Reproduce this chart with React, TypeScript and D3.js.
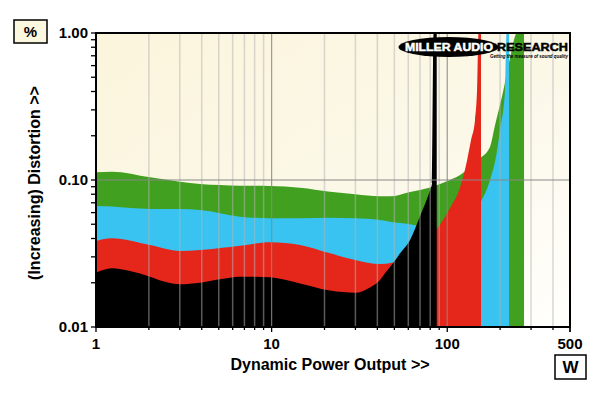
import * as d3 from 'd3';

// power (W) / distortion (%), one pair of arrays per trace
const greenPower = [1, 1.23, 2.03, 3.01, 3.91, 6.61, 9.79, 14.5, 21.5, 29.9, 41.4, 47.2, 61.4, 79.8, 103.7, 118.3, 134.8, 153.7, 175.3, 187.2, 207.9, 227.8, 249.6, 273.7];
const greenDist = [0.1128, 0.1139, 0.1043, 0.0973, 0.0939, 0.0915, 0.091, 0.0886, 0.0832, 0.08, 0.0775, 0.0775, 0.083, 0.089, 0.1, 0.108, 0.123, 0.1405, 0.1685, 0.2366, 0.399, 0.676, 1.0, 1.0];

const bluePower = [1, 1.23, 2.03, 3.01, 3.91, 6.61, 9.79, 14.5, 21.5, 29.9, 41.4, 47.2, 61.4, 79.8, 100, 130, 155.7, 175.3, 189.7, 199.8, 213.4, 217.7, 224.8];
const blueDist = [0.0666, 0.0659, 0.0635, 0.0635, 0.0625, 0.0563, 0.0549, 0.0549, 0.0554, 0.0549, 0.0535, 0.052, 0.05, 0.0465, 0.045, 0.055, 0.0715, 0.1, 0.145, 0.219, 0.41, 1.0, 1.0];

const redPower = [1, 1.23, 2.03, 3.01, 3.91, 6.61, 9.79, 14.5, 21.5, 29.9, 41.4, 48.5, 70, 87.1, 103.7, 118.3, 128, 136.6, 143.9, 147.8, 150.7, 155.7];
const redDist = [0.0385, 0.0401, 0.0361, 0.0329, 0.0334, 0.0357, 0.0377, 0.0361, 0.0317, 0.0286, 0.0268, 0.0274, 0.035, 0.0462, 0.0645, 0.089, 0.1265, 0.187, 0.256, 0.41, 1.0, 1.0];

const blackPower = [1, 1.23, 1.56, 2.03, 2.47, 3.01, 3.91, 5.08, 6.61, 7.53, 9.79, 14.5, 21.5, 29.9, 36.3, 41.4, 44.2, 49.1, 53.9, 61.4, 70, 79.8, 81.9, 83.6, 87.1];
const blackDist = [0.0234, 0.0251, 0.024, 0.022, 0.0203, 0.0195, 0.02, 0.0211, 0.022, 0.022, 0.0218, 0.0198, 0.0177, 0.0171, 0.0186, 0.0209, 0.0232, 0.0271, 0.0317, 0.0391, 0.0569, 0.0855, 0.095, 1.0, 1.0];

const xTickLabels = [1, 10, 100, 500];
const yTickLabels = [1, 0.1, 0.01];

const FONT = '"Liberation Sans", Arial, sans-serif';

function App() {
  const width = 600;
  const height = 393;
  const left = 96, right = 570, top = 33, bottom = 327;

  const x = d3.scaleLog().domain([1, 500]).range([left, right]);
  const y = d3.scaleLog().domain([0.01, 1]).range([bottom, top]);

  const area = d3.area<[number, number]>()
    .x(d => x(d[0]))
    .y0(y(0.01))
    .y1(d => y(d[1]))
    .curve(d3.curveMonotoneX);

  const series = [
    { p: greenPower, d: greenDist, color: '#41a01f' },
    { p: bluePower, d: blueDist, color: '#39c3f0' },
    { p: redPower, d: redDist, color: '#e5261a' },
    { p: blackPower, d: blackDist, color: '#000000' },
  ];

  // minor values for grid + ticks
  const xMinor: number[] = [];
  [1, 10, 100].forEach(dec => {
    for (let i = 1; i < 10; i++) if (dec * i <= 500) xMinor.push(dec * i);
  });
  xMinor.push(500);
  const yMinor: number[] = [];
  [0.01, 0.1].forEach(dec => {
    for (let i = 1; i < 10; i++) yMinor.push(dec * i);
  });
  yMinor.push(1);

  return (
    <svg width={width} height={height} style={{ position: 'absolute', left: 0, top: 0, background: '#fff' }}>
      <defs>
        <linearGradient id="bg" x1="0" y1="0" x2="1" y2="1">
          <stop offset="0" stopColor="#fbf5dc" />
          <stop offset="0.55" stopColor="#fcf8e8" />
          <stop offset="1" stopColor="#fffffd" />
        </linearGradient>
        <clipPath id="plot">
          <rect x={left} y={top} width={right - left} height={bottom - top} />
        </clipPath>
      </defs>

      <rect x={left} y={top} width={right - left} height={bottom - top} fill="url(#bg)" />

      <g clipPath="url(#plot)">
        {series.map((s, i) => (
          <path key={i} d={area(s.p.map((p, j) => [p, s.d[j]] as [number, number])) || ''} fill={s.color} />
        ))}

        {xMinor.filter(v => v !== 1 && v !== 500).map(v => (
          <line key={'gx' + v} x1={x(v)} x2={x(v)} y1={top} y2={bottom}
            stroke={v === 10 || v === 100 ? '#888' : '#b4b4b4'}
            strokeOpacity={v === 10 || v === 100 ? 0.85 : 0.5}
            strokeWidth={v === 10 || v === 100 ? 1.2 : 1.5} />
        ))}
        <line x1={left} x2={right} y1={y(0.1)} y2={y(0.1)} stroke="#888" strokeWidth={1.2} />
      </g>

      {/* frame */}
      <rect x={left} y={top} width={right - left} height={bottom - top} fill="none" stroke="#000" strokeWidth={2} />

      {/* y ticks */}
      {yMinor.map(v => (
        <line key={'ty' + v} x1={left - 5} x2={left} y1={y(v)} y2={y(v)} stroke="#000" strokeWidth={1.3} />
      ))}
      {yTickLabels.map(v => (
        <text key={'ly' + v} x={left - 8} y={y(v)} dy="0.36em" textAnchor="end"
          fontFamily={FONT} fontWeight="bold" fontSize={15}>{v.toFixed(2)}</text>
      ))}

      {/* x ticks */}
      {xMinor.map(v => (
        <line key={'tx' + v} x1={x(v)} x2={x(v)} y1={bottom} y2={bottom + (xTickLabels.includes(v) ? 5 : 3)} stroke="#000" strokeWidth={1.3} />
      ))}
      {xTickLabels.map(v => (
        <text key={'lx' + v} x={x(v)} y={348.5} textAnchor="middle"
          fontFamily={FONT} fontWeight="bold" fontSize={15}>{v}</text>
      ))}

      {/* axis titles */}
      <text x={330} y={370} textAnchor="middle" fontFamily={FONT} fontWeight="bold" fontSize={16}>Dynamic Power Output &gt;&gt;</text>
      <text transform="translate(40,183) rotate(-90)" textAnchor="middle" fontFamily={FONT} fontWeight="bold" fontSize={16}>(Increasing) Distortion &gt;&gt;</text>

      {/* unit boxes */}
      <rect x={14} y={20} width={33} height={23} fill="#fcf7df" stroke="#000" strokeWidth={1.5} />
      <text x={30.5} y={37} textAnchor="middle" fontFamily={FONT} fontWeight="bold" fontSize={15}>%</text>
      <rect x={555} y={355} width={31} height={24} fill="#fff" stroke="#000" strokeWidth={1.5} />
      <text x={570.5} y={373} textAnchor="middle" fontFamily={FONT} fontWeight="bold" fontSize={17}>W</text>

      {/* logo */}
      <ellipse cx={448.5} cy={47} rx={50} ry={10} fill="#000" />
      <text x={405} y={51} fontFamily={FONT} fontWeight="900" fontSize={11.5} fill="#fff" stroke="#fff" strokeWidth={0.5}
        textLength={88} lengthAdjust="spacingAndGlyphs">MILLER AUDIO</text>
      <text x={497} y={51} fontFamily={FONT} fontWeight="900" fontSize={11.5} fill="#000" stroke="#000" strokeWidth={0.5}
        textLength={71} lengthAdjust="spacingAndGlyphs">RESEARCH</text>
      <text x={490} y={57.5} fontFamily={FONT} fontWeight="bold" fontStyle="italic" fontSize={5.5} fill="#000"
        textLength={78} lengthAdjust="spacingAndGlyphs">Getting the measure of sound quality</text>
    </svg>
  );
}

export default App;
